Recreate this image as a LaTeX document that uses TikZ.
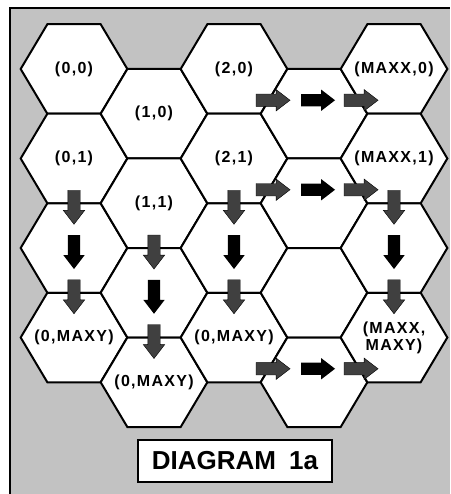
\documentclass[tikz,border=0pt]{standalone}
\usepackage{fontspec}
\setmainfont{Liberation Sans}
\newfontfamily\cellfont[LetterSpace=8]{Liberation Sans}
\usetikzlibrary{shapes.arrows, calc}

\tikzset{
  cell/.style={draw=black, line width=2pt, fill=white, line join=miter},
  celltext/.style={font=\cellfont\bfseries\fontsize{16}{17}\selectfont, align=center, inner sep=0pt},
  flow/.style={single arrow, minimum width=21pt, minimum height=34pt,
               single arrow head extend=4.5pt, single arrow tip angle=75, inner sep=6pt},
  flowgray/.style={flow, fill=black!75, draw=black, line width=0.4pt},
  flowblack/.style={flow, fill=black},
  down/.style={shape border rotate=270}
}

\begin{document}
\begin{tikzpicture}[x=1pt, y=-1pt]
\useasboundingbox (0,0) rectangle (450,494);
% stippled ground and frame
\fill[black!24] (10,8) rectangle (450,494);
\draw[line width=2.6pt] (10,494) -- (10,8) -- (450,8);

% hexagon tiling, odd columns half a row lower
\foreach \col in {0,...,4} {
  \pgfmathsetmacro\yoff{mod(\col,2)*44.75}
  \foreach \row in {0,...,3} {
    \coordinate (c\col\row) at ({74+80*\col}, {69+\yoff+89.5*\row});
    \draw[cell] (c\col\row) ++(-53.33,0) -- ++(26.67,-44.75) -- ++(53.33,0)
      -- ++(26.67,44.75) -- ++(-26.67,44.75) -- ++(-53.33,0) -- cycle;
  }
}

\node[celltext] (l00) at (c00) {(0,0)};
\node[celltext] (l01) at (c01) {(0,1)};
\node[celltext] (l03) at (c03) {(0,MAXY)};
\node[celltext] (l10) at (c10) {(1,0)};
\node[celltext] (l11) at (c11) {(1,1)};
\node[celltext] (l13) at (c13) {(0,MAXY)};
\node[celltext] (l20) at (c20) {(2,0)};
\node[celltext] (l21) at (c21) {(2,1)};
\node[celltext] (l23) at (c23) {(0,MAXY)};
\node[celltext] (l40) at (c40) {(MAXX,0)};
\node[celltext] (l41) at (c41) {(MAXX,1)};
\node[celltext] (l43) at (c43) {(MAXX,\\MAXY)};

% downward runs
\foreach \col in {0,2,4} {
  \node[flowgray, down] (v\col a) at ($(c\col1)!0.5!(c\col2)$) {};
  \node[flowblack, down] (v\col b) at (c\col2) {};
  \node[flowgray, down] (v\col c) at ($(c\col2)!0.5!(c\col3)$) {};
}
\node[flowgray, down] (v1a) at ($(c11)!0.5!(c12)$) {};
\node[flowblack, down] (v1b) at (c12) {};
\node[flowgray, down] (v1c) at ($(c12)!0.5!(c13)$) {};

% rightward runs
\foreach \row in {0,1,3} {
  \node[flowgray] (h\row a) at ([xshift=-45pt, yshift=13.5pt]c3\row) {};
  \node[flowblack] (h\row b) at ([yshift=13.5pt]c3\row) {};
  \node[flowgray] (h\row c) at ([xshift=43pt, yshift=13.5pt]c3\row) {};
}

\node[draw, line width=2pt, fill=white, minimum width=194pt, minimum height=42pt,
      font=\bfseries\fontsize{26}{28}\selectfont] (title) at (235,461) {DIAGRAM\hspace{0.5em}1a};
\end{tikzpicture}
\end{document}
